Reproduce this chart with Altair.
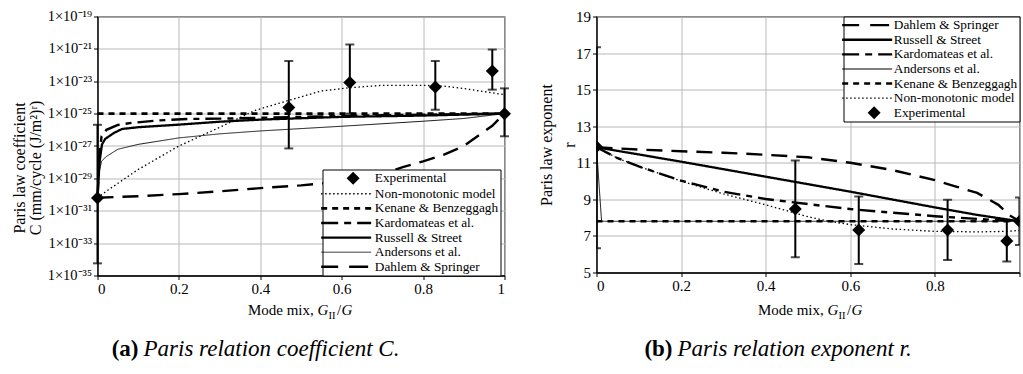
import altair as alt
import pandas as pd

FONT = "Liberation Serif"

# ---------------- series names / legend orders ----------------
A_ORDER = ["Experimental", "Non-monotonic model", "Kenane & Benzeggagh",
           "Kardomateas et al.", "Russell & Street", "Andersons et al.",
           "Dahlem & Springer"]
B_ORDER = ["Dahlem & Springer", "Russell & Street", "Kardomateas et al.",
           "Andersons et al.", "Kenane & Benzeggagh", "Non-monotonic model",
           "Experimental"]

# ---------------- panel (a): coefficient C, stored as log10(C) ----------------
a_nonmono_x = [0, 0.027, 0.1, 0.2, 0.3, 0.387, 0.47, 0.55, 0.62, 0.7, 0.8, 0.85, 0.9, 1.0]
a_nonmono_logC = [-30.2, -29.7, -28.45, -27.0, -25.85, -24.8, -24.18, -23.6, -23.4,
                  -23.25, -23.25, -23.3, -23.45, -23.83]
a_kenane_x = [0, 1.0]
a_kenane_logC = [-25.0, -25.0]
a_kardo_x = [0, 0.005, 0.01, 0.022, 0.05, 0.084, 0.15, 0.22, 0.33, 0.5, 0.7, 1.0]
a_kardo_logC = [-30.2, -27.5, -26.4, -26.0, -25.7, -25.57, -25.42, -25.33, -25.3,
                -25.2, -25.1, -25.0]
a_russell_x = [0, 0.005, 0.011, 0.019, 0.04, 0.06, 0.1, 0.2, 0.3, 0.4, 0.6, 0.8, 1.0]
a_russell_logC = [-30.2, -28.0, -26.9, -26.56, -26.2, -25.95, -25.84, -25.68, -25.5,
                  -25.37, -25.2, -25.12, -25.0]
a_anders_x = [0, 0.004, 0.01, 0.02, 0.05, 0.1, 0.2, 0.3, 0.4, 0.6, 0.8, 0.9, 1.0]
a_anders_logC = [-30.2, -28.6, -27.95, -27.68, -27.2, -26.9, -26.5, -26.25, -26.07,
                 -25.78, -25.47, -25.3, -25.0]
a_dahlem_x = [0, 0.1, 0.2, 0.3, 0.4, 0.5, 0.6, 0.7, 0.75, 0.8, 0.85, 0.9, 0.95, 0.97, 1.0]
a_dahlem_logC = [-30.2, -30.1, -29.97, -29.8, -29.6, -29.43, -29.2, -28.75, -28.3,
                 -27.95, -27.55, -27.0, -26.1, -25.75, -25.0]

a_exp_x = [0, 0.47, 0.62, 0.83, 0.97, 1.0]
a_exp_logC = [-30.21, -24.62, -23.07, -23.36, -22.37, -25.0]
a_exp_lo = [-34.25, -27.15, -25.0, -24.76, -23.52, -26.4]
a_exp_hi = [-25.69, -21.75, -20.73, -21.75, -21.04, -23.44]

a_yticks_exp = [-35, -33, -31, -29, -27, -25, -23, -21, -19]

# ---------------- panel (b): exponent r ----------------
b_dahlem_x = [0, 0.1, 0.2, 0.3, 0.4, 0.5, 0.6, 0.7, 0.8, 0.85, 0.9, 0.95, 0.975, 1.0]
b_dahlem_r = [11.85, 11.72, 11.63, 11.55, 11.44, 11.3, 11.0, 10.6, 10.05, 9.7, 9.35,
              8.7, 8.15, 7.8]
b_russell_x = [0, 0.2, 0.4, 0.6, 0.8, 0.9, 1.0]
b_russell_r = [11.85, 11.06, 10.24, 9.42, 8.56, 8.15, 7.8]
b_kardo_x = [0, 0.05, 0.1, 0.2, 0.3, 0.4, 0.5, 0.6, 0.7, 0.8, 0.9, 1.0]
b_kardo_r = [11.85, 11.25, 10.8, 10.02, 9.42, 9.02, 8.74, 8.47, 8.27, 8.08, 7.93, 7.8]
b_anders_x = [0, 0.012, 1.0]
b_anders_r = [11.85, 7.8, 7.8]
b_kenane_x = [0, 1.0]
b_kenane_r = [7.8, 7.8]
b_nonmono_x = [0, 0.05, 0.1, 0.2, 0.3, 0.4, 0.45, 0.5, 0.55, 0.6, 0.65, 0.7, 0.8, 0.9,
               0.97, 1.0]
b_nonmono_r = [11.85, 11.25, 10.8, 10.0, 9.3, 8.7, 8.38, 8.05, 7.8, 7.62, 7.5, 7.38,
               7.25, 7.22, 7.25, 7.3]

b_exp_x = [0, 0.47, 0.62, 0.83, 0.97, 1.0]
b_exp_r = [11.88, 8.47, 7.32, 7.32, 6.72, 7.8]
b_exp_lo = [6.33, 5.84, 5.46, 5.68, 5.6, 6.5]
b_exp_hi = [17.32, 11.12, 9.16, 8.98, 7.83, 9.1]

b_yticks = [5, 7, 9, 11, 13, 15, 17, 19]
x_ticks = [0, 0.2, 0.4, 0.6, 0.8, 1.0]

# ---------------- styles ----------------
DASH = {"Non-monotonic model": [1.5, 2.6], "Kenane & Benzeggagh": [6, 5],
        "Kardomateas et al.": [16, 6, 6, 6], "Russell & Street": [1, 0],
        "Andersons et al.": [1, 0], "Dahlem & Springer": [16, 9]}
WIDTH = {"Non-monotonic model": 1.3, "Kenane & Benzeggagh": 2.6,
         "Kardomateas et al.": 2.4, "Russell & Street": 2.3, "Andersons et al.": 0.9,
         "Dahlem & Springer": 2.4}

# legend symbols: filled paths in symbol units (1 unit = 5 px at size 100)
U = 5.0
S0 = -32  # start of the legend line samples, px from the symbol centre


def seg_path(segs, h):
    out = ""
    for a, b in segs:
        a, b = a + S0, b + S0
        out += f"M{a / U:.3f},{-h / U:.3f}H{b / U:.3f}V{h / U:.3f}H{a / U:.3f}Z"
    return out


SYMBOL = {
    "Experimental": "M0,-1.3L1.3,0L0,1.3L-1.3,0Z",
    "Non-monotonic model": seg_path([(4 * k, 4 * k + 1.5) for k in range(13)], 0.65),
    "Kenane & Benzeggagh": seg_path([(0, 6), (11, 17), (22, 28), (33, 39), (44, 50)], 1.3),
    "Kardomateas et al.": seg_path([(0, 17), (23, 30), (36, 50)], 1.2),
    "Russell & Street": seg_path([(0, 50)], 1.15),
    "Andersons et al.": seg_path([(0, 50)], 0.45),
    "Dahlem & Springer": seg_path([(0, 17), (28, 47)], 1.2),
}


def lines_df(pairs, key):
    rows = []
    for name, xs, ys in pairs:
        for x, y in zip(xs, ys):
            rows.append({"series": name, "x": x, key: y})
    return pd.DataFrame(rows)


def legend(lx, ly, label_offset):
    return alt.Legend(
        title=None, orient="none", legendX=lx, legendY=ly,
        strokeColor="black", fillColor="white", padding=2, rowPadding=0.6,
        labelFont=FONT, labelFontSize=13.3, labelColor="black",
        labelOffset=label_offset, labelLimit=400, symbolSize=100, symbolOffset=22,
        symbolFillColor="black", symbolStrokeWidth=0, cornerRadius=0)


def panel(df_lines, df_exp, ycol, yscale, yaxis, order, leg, width, height,
          xt_anchor, cap_bold, cap_italic, cap_x, clip, x_label_expr):
    line_order = [s for s in order if s != "Experimental"]
    dash_scale = alt.Scale(domain=line_order, range=[DASH[s] for s in line_order])
    width_scale = alt.Scale(domain=line_order, range=[WIDTH[s] for s in line_order],
                            type="ordinal")
    shape_scale = alt.Scale(domain=order, range=[SYMBOL[s] for s in order])
    xenc = alt.X("x:Q", scale=alt.Scale(domain=[0, 1], nice=False), title=None,
                 axis=alt.Axis(values=x_ticks, labelExpr=x_label_expr, labelFont=FONT,
                               tickCount=len(x_ticks), labelOverlap=False))

    lines = alt.Chart(df_lines).mark_line(color="black", strokeCap="butt", clip=clip).encode(
        x=xenc,
        y=alt.Y(f"{ycol}:Q", scale=yscale, axis=yaxis),
        strokeDash=alt.StrokeDash("series:N", scale=dash_scale, legend=None),
        strokeWidth=alt.StrokeWidth("series:N", scale=width_scale, legend=None),
        detail="series:N",
    )
    bars = alt.Chart(df_exp).mark_rule(color="black", strokeWidth=2, clip=clip).encode(
        x="x:Q", y=alt.Y("lo:Q"), y2="hi:Q")
    cap_lo = alt.Chart(df_exp).mark_tick(color="black", orient="horizontal", size=9,
                                         thickness=2, clip=clip).encode(x="x:Q", y="lo:Q")
    cap_hi = alt.Chart(df_exp).mark_tick(color="black", orient="horizontal", size=9,
                                         thickness=2, clip=clip).encode(x="x:Q", y="hi:Q")
    pts = alt.Chart(df_exp).mark_point(filled=True, color="black", size=100,
                                       opacity=1, clip=clip).encode(
        x="x:Q", y=f"{ycol}:Q",
        shape=alt.Shape("series:N", scale=shape_scale, legend=leg))

    def txt(s, x, y, **kw):
        return alt.Chart(pd.DataFrame({"t": [s]})).mark_text(
            font=FONT, color="black", baseline="alphabetic", **kw).encode(
            text="t:N", x=alt.value(x), y=alt.value(y))

    ty = 298
    title_parts = [
        txt("Mode mix,", xt_anchor - 3.75, ty, align="right", fontSize=15),
        txt("G", xt_anchor, ty, align="left", fontSize=15, fontStyle="italic"),
        txt("II", xt_anchor + 11, ty + 4, align="left", fontSize=10.5),
        txt("/", xt_anchor + 19.5, ty, align="left", fontSize=15),
        txt("G", xt_anchor + 24, ty, align="left", fontSize=15, fontStyle="italic"),
    ]
    cy = 339
    caption = [
        txt(cap_bold, cap_x, cy, align="right", fontSize=23, fontWeight="bold"),
        txt(cap_italic, cap_x + 5, cy, align="left", fontSize=23, fontStyle="italic"),
    ]
    return alt.layer(lines, bars, cap_lo, cap_hi, pts, *title_parts, *caption).properties(
        width=width, height=height)


# ---------- build panel (a) ----------
a_pairs = [
    ("Non-monotonic model", a_nonmono_x, a_nonmono_logC),
    ("Kenane & Benzeggagh", a_kenane_x, a_kenane_logC),
    ("Kardomateas et al.", a_kardo_x, a_kardo_logC),
    ("Russell & Street", a_russell_x, a_russell_logC),
    ("Andersons et al.", a_anders_x, a_anders_logC),
    ("Dahlem & Springer", a_dahlem_x, a_dahlem_logC),
]
dfa = lines_df(a_pairs, "logC")
dfa["C"] = 10.0 ** dfa["logC"]
dfa_exp = pd.DataFrame({"series": "Experimental", "x": a_exp_x,
                        "C": [10.0 ** v for v in a_exp_logC],
                        "lo": [10.0 ** v for v in a_exp_lo],
                        "hi": [10.0 ** v for v in a_exp_hi]})

SUP = str.maketrans("-0123456789", "⁻⁰¹²³⁴⁵⁶⁷⁸⁹")
expr = ""
for e in a_yticks_exp[:-1]:
    expr += f"datum.value < {10.0 ** (e + 0.5)} ? '1×10{str(e).translate(SUP)}' : "
expr += f"'1×10{str(a_yticks_exp[-1]).translate(SUP)}'"

a_yaxis = alt.Axis(values=[10.0 ** e for e in a_yticks_exp], labelExpr=expr,
                   tickCount=len(a_yticks_exp),
                   labelFontSize=14.5, labelFont=FONT, labelOverlap=False,
                   title=["Paris law coefficient", "C (mm/cycle (J/m²)ʳ)"],
                   titleLineHeight=16, titleY=151, titlePadding=4)
a_yscale = alt.Scale(type="log", domain=[1e-35, 1e-19], nice=False)

left = panel(dfa, dfa_exp, "C", a_yscale, a_yaxis, A_ORDER, legend(225, 153, 15),
             407, 259, 220, "(a)", "Paris relation coefficient C.", 41, False,
             "format(datum.value, '.1~f')")

# ---------- build panel (b) ----------
b_pairs = [
    ("Dahlem & Springer", b_dahlem_x, b_dahlem_r),
    ("Russell & Street", b_russell_x, b_russell_r),
    ("Kardomateas et al.", b_kardo_x, b_kardo_r),
    ("Andersons et al.", b_anders_x, b_anders_r),
    ("Kenane & Benzeggagh", b_kenane_x, b_kenane_r),
    ("Non-monotonic model", b_nonmono_x, b_nonmono_r),
]
dfb = lines_df(b_pairs, "r")
dfb_exp = pd.DataFrame({"series": "Experimental", "x": b_exp_x, "r": b_exp_r,
                        "lo": b_exp_lo, "hi": b_exp_hi})
b_yaxis = alt.Axis(values=b_yticks, format="d", tickCount=len(b_yticks),
                   labelFontSize=15, labelFont=FONT, labelOverlap=False,
                   title=["Paris law exponent", "r"], titleLineHeight=23, titlePadding=-2)
b_yscale = alt.Scale(domain=[5, 19], nice=False)

# the reference figure is cropped at x = 1 on the right panel
right = panel(dfb, dfb_exp, "r", b_yscale, b_yaxis, B_ORDER, legend(247, 0, 13),
              423, 256, 231, "(b)", "Paris relation exponent r.", 76, True,
              "datum.value >= 0.99 ? '' : format(datum.value, '.1~f')")

chart = alt.hconcat(left, right, spacing=25).resolve_scale(
    strokeDash="independent", strokeWidth="independent", shape="independent"
).resolve_legend(shape="independent").properties(
    padding={"left": 10.5, "top": 7.5, "right": 0, "bottom": 0}
).configure(font=FONT).configure_axis(
    labelFont=FONT, labelFontSize=15, labelColor="black", titleFont=FONT,
    titleFontSize=16, titleFontWeight="normal", titleColor="black",
    gridColor="#b8b8b8", gridWidth=1, domainColor="black", domainWidth=1.3,
    tickColor="black", tickSize=4, labelPadding=2,
).configure_view(stroke="#333333", strokeWidth=1.2).configure_mark(color="black")

chart.save("out.html", embed_options={"renderer": "svg", "actions": False})
